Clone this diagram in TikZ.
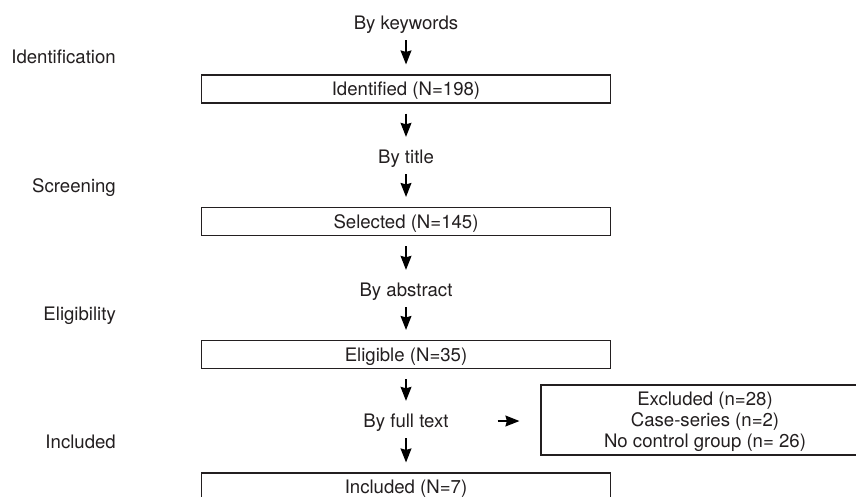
\documentclass[tikz,border=0pt]{standalone}
\usepackage{fontspec}
\setmainfont{TeX Gyre Heros}
\usetikzlibrary{arrows.meta}
\definecolor{ink}{HTML}{231F20}
\begin{document}
\begin{tikzpicture}[x=1pt,y=-1pt,
  every node/.style={font=\fontsize{18.6}{21}\selectfont, text=ink},
  lbl/.style={inner sep=0pt, text height=15pt, text depth=2pt},
  stage/.style={lbl, anchor=east},
  flowbox/.style={draw=ink, line width=1.2pt, minimum width=409pt, minimum height=28pt, inner sep=0pt, text height=15pt, text depth=2pt},
  exbox/.style={draw=ink, line width=1.2pt, minimum width=328pt, minimum height=70pt, inner sep=0pt},
  extext/.style={inner sep=0pt, align=center},
  arr/.style={-{Stealth[length=14pt,width=11pt,inset=1.5pt]}, line width=1.1pt, draw=black},
  tobox/.style={arr, shorten <=8.5pt, shorten >=10pt},
  frombox/.style={arr, shorten <=10pt, shorten >=11.5pt}
]
\clip (0,0) rectangle (856,496);
\fill[white] (0,0) rectangle (856,496);

% stage labels
\node[stage] (s1) at (116,57) {Identification};
\node[stage] (s2) at (116,186) {Screening};
\node[stage] (s3) at (116,314) {Eligibility};
\node[stage] (s4) at (116,442) {Included};

% flow
\node[lbl] (kw) at (406,23) {By keywords};
\node[flowbox] (id) at (406,89) {Identified (N=198)};
\node[lbl] (ti) at (406,157) {By title};
\node[flowbox] (sel) at (406,221.5) {Selected (N=145)};
\node[lbl] (ab) at (406,290) {By abstract};
\node[flowbox] (el) at (406,354.5) {Eligible (N=35)};
\node[lbl] (ft) at (406,421) {By full text};
\node[flowbox] (inc) at (406,487) {Included (N=7)};
\node[exbox] (ex) at (705,420) {};
\node[extext] (exlines) at (705,422) {Excluded (n=28)\\Case-series (n=2)\\No control group (n=~26)};

\draw[tobox] (kw) -- (id);
\draw[frombox] (id) -- (ti);
\draw[tobox] (ti) -- (sel);
\draw[frombox] (sel) -- (ab);
\draw[tobox] (ab) -- (el);
\draw[frombox] (el) -- (ft);
\draw[tobox] (ft) -- (inc);
\draw[arr, shorten <=49pt, shorten >=21pt] (ft.east) -- (ft.east -| ex.west);
\end{tikzpicture}
\end{document}
